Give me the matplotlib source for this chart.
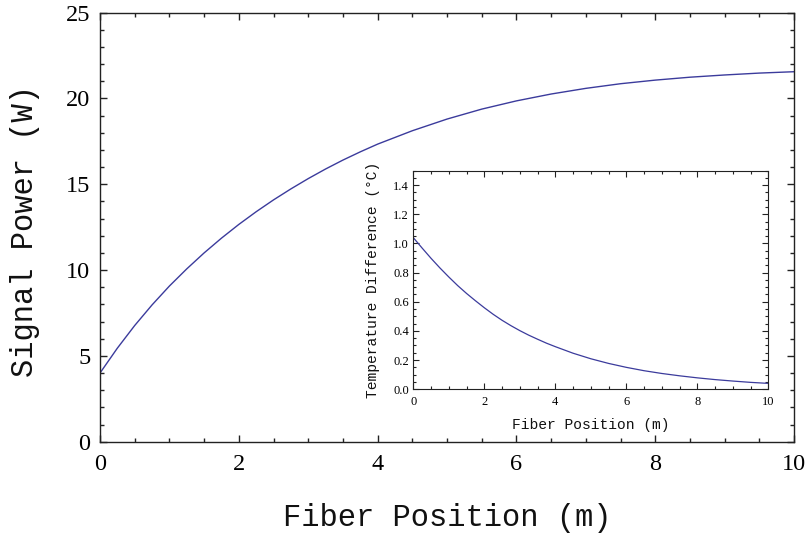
import matplotlib
matplotlib.use("Agg")
import matplotlib.pyplot as plt
from matplotlib.ticker import MultipleLocator, FormatStrFormatter

# values (finer steps where the curves bend most)
position = [0.0, 0.25, 0.5, 0.75, 1.0, 1.25, 1.5, 1.75, 2.0, 2.25, 2.5, 2.75,
            3.0, 3.25, 3.5, 3.75, 4.0, 4.5, 5.0, 5.5, 6.0, 6.5, 7.0, 7.5,
            8.0, 8.5, 9.0, 9.5, 10.0]
signal_power = [4.0, 5.45, 6.77, 7.97, 9.07, 10.07, 11.0, 11.86, 12.66, 13.4, 14.09, 14.73,
                15.33, 15.89, 16.41, 16.89, 17.34, 18.12, 18.8, 19.38, 19.86, 20.26, 20.59, 20.86,
                21.07, 21.24, 21.37, 21.48, 21.56]
temp_diff = [1.04, 0.968, 0.898, 0.832, 0.77, 0.711, 0.657, 0.607, 0.559, 0.514, 0.473, 0.436,
             0.402, 0.371, 0.343, 0.316, 0.292, 0.247, 0.209, 0.177, 0.15, 0.127, 0.108, 0.092,
             0.078, 0.066, 0.056, 0.047, 0.04]

line_col = "#3b3b9c"
serif = "Liberation Serif"
mono = "Liberation Mono"

fig = plt.figure(figsize=(8.09, 5.35), dpi=100)

# main plot
ax = fig.add_axes([0.1236, 0.1744, 0.8579, 0.8019])
ax.plot(position, signal_power, color=line_col, lw=1.0)
ax.set_xlim(0, 10)
ax.set_ylim(0, 25)
ax.xaxis.set_major_locator(MultipleLocator(2))
ax.xaxis.set_minor_locator(MultipleLocator(0.5))
ax.yaxis.set_major_locator(MultipleLocator(5))
ax.yaxis.set_minor_locator(MultipleLocator(1))
ax.tick_params(which="both", direction="in", top=True, right=True, width=1, color="#222222")
ax.tick_params(which="major", length=5)
ax.tick_params(which="minor", length=2.7)
ax.tick_params(axis="x", pad=9)
ax.tick_params(axis="y", pad=7)
for lab in ax.get_xticklabels() + ax.get_yticklabels():
    lab.set_fontfamily(serif)
    lab.set_fontsize(17.5)
for s in ax.spines.values():
    s.set_linewidth(1)
    s.set_color("#222222")
ax.set_xlabel("Fiber Position (m)", fontfamily=mono, fontsize=22, va="center", color="#111111")
ax.xaxis.set_label_coords(0.5, -0.178)
ax.set_ylabel("Signal Power (W)", fontfamily=mono, fontsize=22, va="center", color="#111111")
ax.yaxis.set_label_coords(-0.108, 0.49)

# inset
ins = fig.add_axes([0.5109, 0.2725, 0.4388, 0.4086])
ins.set_facecolor("white")
ins.plot(position, temp_diff, color=line_col, lw=0.9)
ins.set_xlim(0, 10)
ins.set_ylim(0, 1.5)
ins.xaxis.set_major_locator(MultipleLocator(2))
ins.xaxis.set_minor_locator(MultipleLocator(0.5))
ins.yaxis.set_major_locator(MultipleLocator(0.2))
ins.yaxis.set_minor_locator(MultipleLocator(0.05))
ins.yaxis.set_major_formatter(FormatStrFormatter("%.1f"))
ins.tick_params(which="both", direction="in", top=True, right=True, width=0.8, color="#222222")
ins.tick_params(which="major", length=4)
ins.tick_params(which="minor", length=2)
ins.tick_params(axis="x", pad=5)
ins.tick_params(axis="y", pad=3)
for lab in ins.get_xticklabels() + ins.get_yticklabels():
    lab.set_fontfamily(serif)
    lab.set_fontsize(9)
for s in ins.spines.values():
    s.set_linewidth(0.8)
    s.set_color("#222222")
ins.set_xlabel("Fiber Position (m)", fontfamily=mono, fontsize=10.5, va="center", color="#111111")
ins.xaxis.set_label_coords(0.5, -0.164)
ins.set_ylabel("Temperature Difference (\u00b0C)", fontfamily=mono, fontsize=10.5, va="center",
               color="#111111")
ins.yaxis.set_label_coords(-0.1135, 0.5)

fig.savefig("out.png", dpi=100)
